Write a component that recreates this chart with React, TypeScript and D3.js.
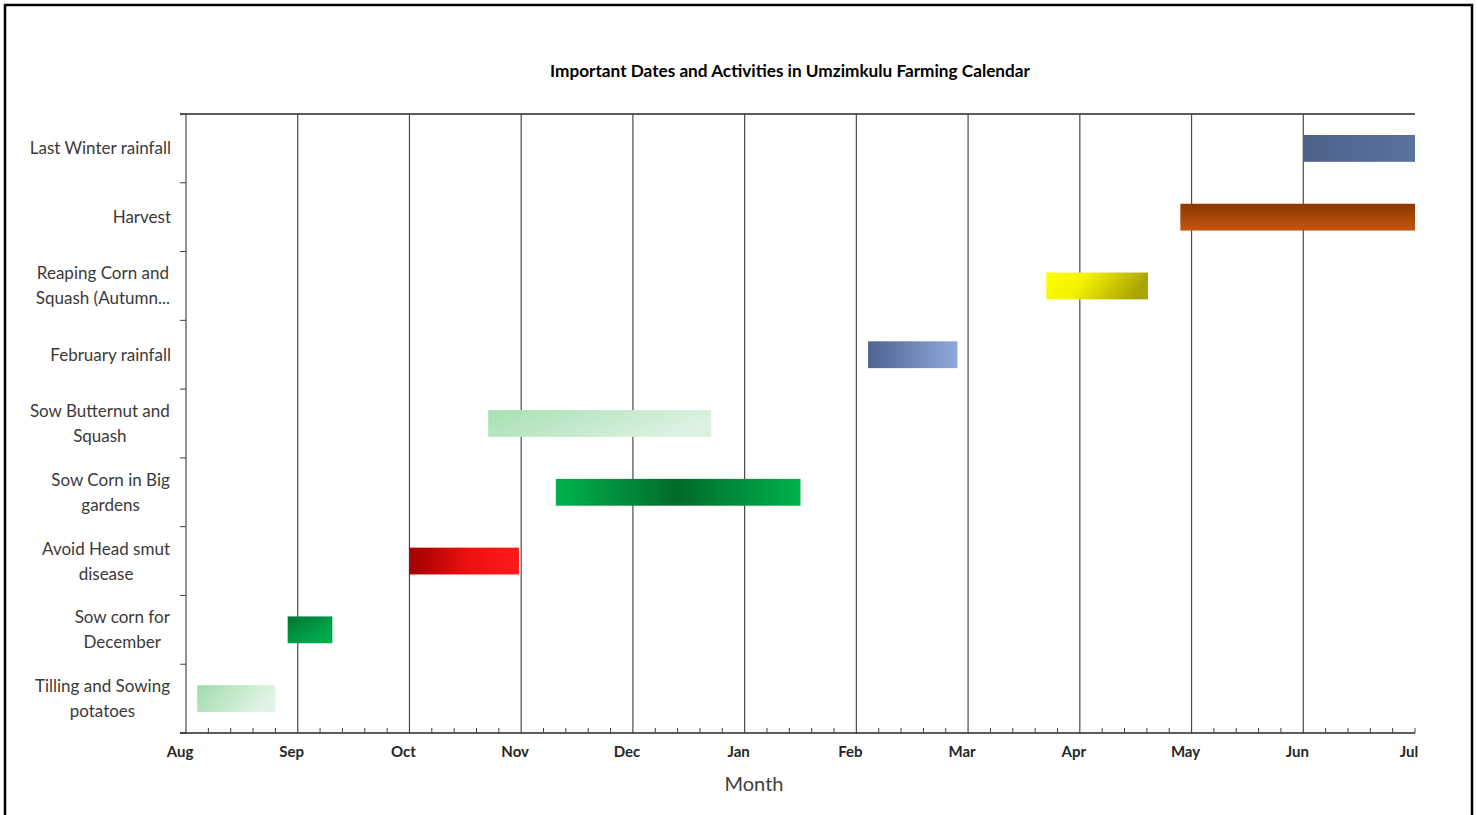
import React from "react";
import * as d3 from "d3";

// ---- Data ----
const activities = [
  "Tilling and Sowing potatoes",
  "Sow corn for December",
  "Avoid Head smut disease",
  "Sow Corn in Big gardens",
  "Sow Butternut and Squash",
  "February rainfall",
  "Reaping Corn and Squash (Autumn…",
  "Harvest",
  "Last Winter rainfall",
];
const activityLabelLines = [
  ["Tilling and Sowing", "potatoes"],
  ["Sow corn for", "December"],
  ["Avoid Head smut", "disease"],
  ["Sow Corn in Big", "gardens"],
  ["Sow Butternut and", "Squash"],
  ["February rainfall"],
  ["Reaping Corn and", "Squash (Autumn..."],
  ["Harvest"],
  ["Last Winter rainfall"],
];
// start / end in months since 1 Aug
const startMonths = [0.1, 0.91, 2.0, 3.31, 2.705, 6.105, 7.7, 8.9, 10.0];
const endMonths = [0.8, 1.31, 2.98, 5.5, 4.7, 6.905, 8.61, 11.0, 11.0];
const monthLabels = ["Aug", "Sep", "Oct", "Nov", "Dec", "Jan", "Feb", "Mar", "Apr", "May", "Jun", "Jul"];
const title = "Important Dates and Activities in Umzimkulu Farming Calendar";
const xTitle = "Month";

const gradIds = ["gTill", "gSowDec", "gSmut", "gCornBig", "gButter", "gFeb", "gReap", "gHarvest", "gWinter"];

const W = 1477;
const H = 815;
const margin = { left: 186, right: 1415, top: 114, bottom: 733 };

function measure(text: string, font: string) {
  const c = document.createElement("canvas");
  const ctx = c.getContext("2d")!;
  ctx.font = font;
  return ctx.measureText(text).width;
}

export default function App() {
  const x = d3.scaleLinear().domain([0, monthLabels.length - 1]).range([margin.left, margin.right]);
  const y = d3
    .scaleBand<string>()
    .domain([...activities].reverse())
    .range([margin.top, margin.bottom])
    .padding(0);
  const bw = y.bandwidth();
  const barH = bw * 0.39;
  const labelSize = 17;
  const labelFont = `${labelSize}px Lato`;
  const minorTicks: number[] = [];
  for (let m = 0; m < monthLabels.length - 1; m++) {
    for (let k = 1; k < 5; k++) minorTicks.push(m + k / 5);
  }
  const boundaries = d3.range(activities.length + 1).map((i) => margin.top + i * bw);

  return (
    <svg width={W} height={H} style={{ position: "absolute", left: 0, top: 0 }}>
      <defs>
        <linearGradient id="gTill" x1="0" y1="0" x2="1" y2="0.3">
          <stop offset="0" stopColor="#9edcaa" />
          <stop offset="1" stopColor="#e2f4e6" />
        </linearGradient>
        <linearGradient id="gSowDec" x1="0" y1="0" x2="1" y2="1">
          <stop offset="0" stopColor="#007530" />
          <stop offset="0.6" stopColor="#00a046" />
          <stop offset="1" stopColor="#00b050" />
        </linearGradient>
        <linearGradient id="gSmut" x1="0" y1="0" x2="1" y2="0">
          <stop offset="0" stopColor="#a00000" />
          <stop offset="0.55" stopColor="#f01010" />
          <stop offset="1" stopColor="#ff1a1a" />
        </linearGradient>
        <linearGradient id="gCornBig" x1="0" y1="0" x2="1" y2="0">
          <stop offset="0" stopColor="#00b24c" />
          <stop offset="0.5" stopColor="#006b2a" />
          <stop offset="1" stopColor="#00b24c" />
        </linearGradient>
        <linearGradient id="gButter" x1="0" y1="0" x2="1" y2="0.3">
          <stop offset="0" stopColor="#a6e0b2" />
          <stop offset="1" stopColor="#dcf1e1" />
        </linearGradient>
        <linearGradient id="gFeb" x1="0" y1="0" x2="1" y2="0">
          <stop offset="0" stopColor="#4f6391" />
          <stop offset="1" stopColor="#8faadc" />
        </linearGradient>
        <linearGradient id="gReap" x1="0" y1="0" x2="1" y2="0.2">
          <stop offset="0" stopColor="#ffff00" />
          <stop offset="0.4" stopColor="#f5f200" />
          <stop offset="1" stopColor="#aaa400" />
        </linearGradient>
        <linearGradient id="gHarvest" x1="0" y1="0" x2="0" y2="1">
          <stop offset="0" stopColor="#8a3700" />
          <stop offset="1" stopColor="#c2560e" />
        </linearGradient>
        <linearGradient id="gWinter" x1="0" y1="0" x2="1" y2="0">
          <stop offset="0" stopColor="#4d6189" />
          <stop offset="1" stopColor="#5b72a0" />
        </linearGradient>
      </defs>

      <rect x={0} y={0} width={W} height={H} fill="#fff" />
      <rect x={5} y={5} width={1467} height={840} fill="none" stroke="#000" strokeWidth={2.5} />

      <text x={790} y={77} textAnchor="middle" fontFamily="Lato" fontWeight="bold" fontSize={17.2} fill="#000">
        {title}
      </text>

      {/* top line */}
      <line x1={180} x2={margin.right} y1={margin.top} y2={margin.top} stroke="#262626" strokeWidth={1.3} />

      {/* vertical gridlines */}
      {monthLabels.map((m, i) =>
        i === monthLabels.length - 1 ? null : (
          <line key={m} x1={x(i)} x2={x(i)} y1={margin.top} y2={margin.bottom} stroke="#4a4a4a" strokeWidth={1.2} />
        )
      )}

      {/* left axis ticks */}
      {boundaries.map((b, i) => (
        <line key={i} x1={180} x2={margin.left} y1={b} y2={b} stroke="#404040" strokeWidth={1} />
      ))}

      {/* bottom axis */}
      <line x1={180} x2={margin.right} y1={margin.bottom} y2={margin.bottom} stroke="#262626" strokeWidth={1.3} />
      {minorTicks.map((t, i) => (
        <line key={i} x1={x(t)} x2={x(t)} y1={margin.bottom - 5} y2={margin.bottom} stroke="#404040" strokeWidth={1} />
      ))}
      <line x1={margin.right} x2={margin.right} y1={margin.bottom - 5} y2={margin.bottom} stroke="#404040" />

      {/* bars */}
      {activities.map((a, i) => {
        const yc = (y(a) as number) + bw / 2;
        return (
          <rect
            key={a}
            x={x(startMonths[i])}
            y={yc - barH / 2}
            width={x(endMonths[i]) - x(startMonths[i])}
            height={barH}
            fill={`url(#${gradIds[i]})`}
          />
        );
      })}

      {/* y labels */}
      {activities.map((a, i) => {
        const lines = activityLabelLines[i];
        const yc = (y(a) as number) + bw / 2;
        const widths = lines.map((l) => measure(l, labelFont));
        const maxW = Math.max(...widths);
        const cx = 170 - maxW / 2;
        if (lines.length === 1) {
          return (
            <text key={a} x={171} y={yc + 6} textAnchor="end" fontFamily="Lato" fontSize={labelSize} fill="#3a3a3a">
              {lines[0]}
            </text>
          );
        }
        return (
          <g key={a}>
            {lines.map((l, j) => (
              <text
                key={j}
                x={cx}
                y={yc - 12.5 + j * 25 + 6}
                textAnchor="middle"
                fontFamily="Lato"
                fontSize={labelSize}
                fill="#3a3a3a"
              >
                {l}
              </text>
            ))}
          </g>
        );
      })}

      {/* x labels */}
      {monthLabels.map((m, i) => (
        <text key={m} x={x(i) - 6} y={756.5} textAnchor="middle" fontFamily="Lato" fontWeight="bold" fontSize={15} fill="#262626">
          {m}
        </text>
      ))}
      <text x={754} y={791} textAnchor="middle" fontFamily="Lato" fontSize={20} fill="#404040">
        {xTitle}
      </text>
    </svg>
  );
}
